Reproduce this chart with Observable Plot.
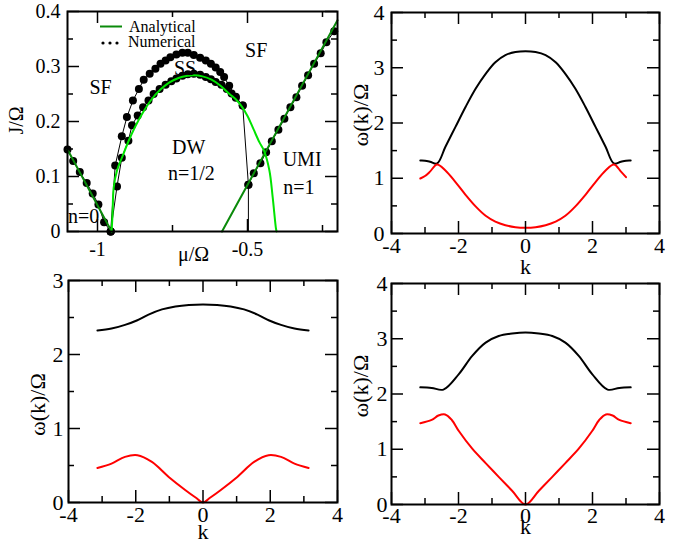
<!DOCTYPE html>
<html><head><meta charset="utf-8">
<script src="https://cdn.jsdelivr.net/npm/d3@7"></script>
<script src="https://cdn.jsdelivr.net/npm/@observablehq/plot@0.6"></script>
<style>
body{margin:0;background:#fff;}
#wrap{position:relative;width:690px;height:548px;overflow:hidden;background:#fff;font-family:"Liberation Serif","Times New Roman",serif;}
#wrap > .p{position:absolute;}
#wrap svg{overflow:visible;}
</style></head><body><div id="wrap"></div>
<script>
// ---------- Panel (a): phase diagram J/Ω vs μ/Ω ----------
const leftLineMu = [-1.1, -0.953];
const leftLineJ  = [0.149, 0];
const rightLineMu = [-0.585, -0.2];
const rightLineJ  = [0, 0.384];
const lobeMu = [-0.953,-0.950,-0.946,-0.935,-0.918,-0.896,-0.875,-0.85,-0.82,-0.79,-0.76,-0.73,-0.70,-0.68,-0.65,-0.62,-0.59,-0.56,-0.54,-0.52,-0.50,-0.48,-0.46,-0.445,-0.427,-0.416,-0.405,-0.403];
const lobeJ  = [0,0.03,0.08,0.111,0.135,0.165,0.190,0.215,0.240,0.258,0.271,0.279,0.283,0.284,0.282,0.276,0.265,0.250,0.241,0.228,0.210,0.186,0.162,0.147,0.111,0.062,0.005,0];

const numLeftMu = [-1.1,-1.081,-1.059,-1.036,-1.016,-0.997,-0.978,-0.956];
const numLeftJ  = [0.149,0.128,0.108,0.088,0.069,0.049,0.017,0];
const numOuterMu = [-0.956,-0.941,-0.919,-0.902,-0.882,-0.862,-0.846,-0.826,-0.807,-0.790,-0.773,-0.757,-0.737,-0.717,-0.699,-0.679,-0.658,-0.639,-0.622,-0.606,-0.591,-0.578,-0.561,-0.539,-0.516];
const numOuterJ  = [0,0.120,0.173,0.208,0.238,0.259,0.276,0.287,0.296,0.305,0.311,0.317,0.322,0.325,0.325,0.321,0.316,0.311,0.305,0.298,0.290,0.281,0.265,0.245,0.229];
const numInnerMu = [-0.956,-0.935,-0.919,-0.897,-0.885,-0.866,-0.848,-0.830,-0.813,-0.793,-0.773,-0.754,-0.737,-0.717,-0.699,-0.679,-0.658,-0.639,-0.622,-0.606,-0.587,-0.569,-0.553,-0.539,-0.516,-0.497];
const numInnerJ  = [0,0.082,0.134,0.165,0.193,0.211,0.226,0.238,0.250,0.259,0.267,0.273,0.278,0.283,0.286,0.287,0.285,0.281,0.277,0.272,0.267,0.259,0.251,0.243,0.229,0.085];
const numDropMu = [-0.497,-0.497];
const numDropJ  = [0.085,0];
const numRightMu = [-0.497,-0.479,-0.457,-0.438,-0.419,-0.397,-0.377,-0.357,-0.337,-0.318,-0.298,-0.278,-0.256,-0.237,-0.211];
const numRightJ  = [0.085,0.106,0.124,0.144,0.164,0.185,0.205,0.226,0.244,0.265,0.284,0.305,0.324,0.344,0.364];

const phaseLabels = ["SF","SS","SF","DW","n=1/2","UMI","n=1","n=0"];
const phaseLabelMu = [-0.99,-0.708,-0.471,-0.696,-0.687,-0.318,-0.329,-1.046];
const phaseLabelJ  = [0.262,0.296,0.329,0.153,0.105,0.131,0.079,0.028];

// ---------- Panel (b): dispersion, top right ----------
const kB_upper = [-3.14,-3.0,-2.85,-2.64,-2.39,-2.09,-1.79,-1.49,-1.19,-0.9,-0.6,-0.3,0,0.3,0.6,0.9,1.19,1.49,1.79,2.09,2.39,2.64,2.85,3.0,3.14];
const wB_upper = [1.32,1.318,1.30,1.267,1.57,1.93,2.29,2.62,2.89,3.10,3.23,3.285,3.30,3.285,3.23,3.10,2.89,2.62,2.29,1.93,1.57,1.267,1.30,1.318,1.32];
const kB_lower = [-3.14,-3.0,-2.85,-2.64,-2.39,-2.09,-1.79,-1.49,-1.19,-0.9,-0.6,-0.3,0,0.3,0.6,0.9,1.19,1.49,1.79,2.09,2.39,2.64,2.85,3.0];
const wB_lower = [0.995,1.04,1.12,1.25,1.14,0.93,0.70,0.49,0.32,0.215,0.15,0.115,0.105,0.115,0.15,0.215,0.32,0.49,0.70,0.93,1.14,1.25,1.12,1.02];

// ---------- Panel (c): dispersion, bottom left ----------
const kC_upper = [-3.14,-2.72,-2.32,-1.97,-1.62,-1.22,-0.82,-0.42,0,0.42,0.82,1.22,1.62,1.97,2.32,2.72,3.14];
const wC_upper = [2.325,2.35,2.40,2.46,2.54,2.61,2.65,2.67,2.675,2.67,2.65,2.61,2.54,2.46,2.40,2.35,2.325];
const kC_lower = [-3.14,-2.72,-2.32,-1.95,-1.52,-1.02,-0.52,-0.22,0,0.22,0.52,1.02,1.52,1.95,2.32,2.72,3.14];
const wC_lower = [0.467,0.526,0.616,0.638,0.548,0.346,0.166,0.067,0,0.067,0.166,0.346,0.548,0.638,0.616,0.526,0.467];

// ---------- Panel (d): dispersion, bottom right ----------
const kD_upper = [-3.14,-2.8,-2.45,-1.99,-1.59,-1.19,-0.8,-0.4,0,0.4,0.8,1.19,1.59,1.99,2.45,2.8,3.14];
const wD_upper = [2.12,2.11,2.08,2.36,2.69,2.93,3.05,3.095,3.115,3.095,3.05,2.93,2.69,2.36,2.08,2.11,2.12];
const kD_lower = [-3.14,-2.8,-2.6,-2.4,-2.2,-1.99,-1.59,-1.19,-0.8,-0.4,0,0.4,0.8,1.19,1.59,1.99,2.2,2.4,2.6,2.8,3.14];
const wD_lower = [1.47,1.53,1.61,1.63,1.53,1.33,1.01,0.75,0.50,0.25,0,0.25,0.50,0.75,1.01,1.33,1.53,1.63,1.61,1.53,1.47];

// axis tick values
const aXMajor = [-1,-0.5], aXMinor = [-0.75,-0.25];
const aYMajor = [0,0.1,0.2,0.3,0.4], aYMinor = [0.05,0.15,0.25,0.35];
const kMajor = [-4,-2,0,2,4], kMinor = [-3,-1,1,3];
const w4Major = [0,1,2,3,4], w4Minor = [0.5,1.5,2.5,3.5];
const w3Major = [0,1,2,3], w3Minor = [0.5,1.5,2.5];

// ---------- helpers ----------
const zip = (xs, ys) => xs.map((x,i) => ({x, y: ys[i]}));
const FONT = "'Liberation Serif','Times New Roman',serif";
const BRIGHT = "#00e400", DARK = "#0a8a0a";

function panel(o){
  const fw = o.width - o.ml - o.mr, fh = o.height - o.mt - o.mb;
  const ts = {stroke:"black", strokeWidth:1.5};
  const fs = o.fs;
  const marks = [
    ...o.marks,
    Plot.tickX(o.xMajor, {x:d=>d, insetTop: fh-12, ...ts}),
    Plot.tickX(o.xMajor, {x:d=>d, insetBottom: fh-12, ...ts}),
    Plot.tickX(o.xMinor, {x:d=>d, insetTop: fh-6, ...ts}),
    Plot.tickX(o.xMinor, {x:d=>d, insetBottom: fh-6, ...ts}),
    Plot.tickY(o.yMajor, {y:d=>d, insetRight: fw-12, ...ts}),
    Plot.tickY(o.yMajor, {y:d=>d, insetLeft: fw-12, ...ts}),
    Plot.tickY(o.yMinor, {y:d=>d, insetRight: fw-6, ...ts}),
    Plot.tickY(o.yMinor, {y:d=>d, insetLeft: fw-6, ...ts}),
    Plot.frame({stroke:"black", strokeWidth:2}),
    Plot.axisX({anchor:"bottom", ticks:o.xMajor, tickSize:0, tickPadding:o.xPad, tickFormat:d=>String(d), label:null, fontSize:fs}),
    Plot.axisY({anchor:"left", ticks:o.yMajor, tickSize:0, tickPadding:o.yPad, tickFormat:d=>String(d), label:null, fontSize:fs}),
    Plot.text([o.xTitle], {text:d=>d, x:o.xTitleAt, frameAnchor:"bottom", lineAnchor:"middle", textAnchor:"middle", dy:o.xTitleDy, fontSize:fs}),
    Plot.text([o.yTitle], {text:d=>d, frameAnchor:"left", lineAnchor:"middle", textAnchor:"middle", rotate:-90, dx:o.yTitleDx, dy:o.yTitleDy, fontSize:fs})
  ];
  const svg = Plot.plot({
    width:o.width, height:o.height,
    marginLeft:o.ml, marginRight:o.mr, marginTop:o.mt, marginBottom:o.mb,
    x:{domain:o.xDomain}, y:{domain:o.yDomain},
    style:{fontFamily:FONT, fontSize:fs+"px", background:"transparent", color:"black", overflow:"visible"},
    marks
  });
  const div = document.createElement("div");
  div.className = "p";
  div.style.left = o.left + "px"; div.style.top = o.top + "px";
  div.appendChild(svg);
  document.getElementById("wrap").appendChild(div);
}

function dispersionMarks(ku, wu, kl, wl){
  return [
    Plot.line(zip(ku, wu), {x:"x", y:"y", stroke:"black", strokeWidth:2, curve:"catmull-rom"}),
    Plot.line(zip(kl, wl), {x:"x", y:"y", stroke:"#ff0000", strokeWidth:2, curve:"catmull-rom"})
  ];
}

// Panel (a)
const dotStyle = {r:4, fill:"black", stroke:"none"};
panel({
  left:0, top:0, width:345, height:270, ml:67, mr:8, mt:11, mb:39, fs:20,
  xDomain:[-1.1,-0.2], yDomain:[0,0.4],
  xMajor:aXMajor, xMinor:aXMinor, yMajor:aYMajor, yMinor:aYMinor,
  xPad:10, yPad:7,
  xTitle:"μ/Ω", xTitleAt:-0.68, xTitleDy:23,
  yTitle:"J/Ω", yTitleDx:-51, yTitleDy:-1,
  marks:[
    Plot.line(zip(numOuterMu, numOuterJ), {x:"x", y:"y", stroke:"black", strokeWidth:1}),
    Plot.line(zip(numInnerMu, numInnerJ), {x:"x", y:"y", stroke:"black", strokeWidth:1}),
    Plot.line(zip(numDropMu, numDropJ), {x:"x", y:"y", stroke:"black", strokeWidth:1}),
    Plot.line(zip(numLeftMu, numLeftJ), {x:"x", y:"y", stroke:"black", strokeWidth:1}),
    Plot.line(zip(numRightMu, numRightJ), {x:"x", y:"y", stroke:"black", strokeWidth:1}),
    Plot.dot(zip(numLeftMu, numLeftJ), {x:"x", y:"y", ...dotStyle}),
    Plot.dot(zip(numOuterMu, numOuterJ), {x:"x", y:"y", ...dotStyle}),
    Plot.dot(zip(numInnerMu, numInnerJ), {x:"x", y:"y", ...dotStyle}),
    Plot.dot(zip(numRightMu, numRightJ), {x:"x", y:"y", ...dotStyle}),
    Plot.line(zip(leftLineMu, leftLineJ), {x:"x", y:"y", stroke:DARK, strokeWidth:2}),
    Plot.line(zip(rightLineMu, rightLineJ), {x:"x", y:"y", stroke:DARK, strokeWidth:2}),
    Plot.line(zip(lobeMu, lobeJ), {x:"x", y:"y", stroke:BRIGHT, strokeWidth:2, curve:"catmull-rom"}),
    Plot.text(phaseLabels, {text:d=>d, x:(d,i)=>phaseLabelMu[i], y:(d,i)=>phaseLabelJ[i], fontSize:20, fill:"black"})
  ]
});

// Panel (b)
panel({
  left:345, top:0, width:345, height:270, ml:46, mr:31, mt:12, mb:37, fs:22,
  xDomain:[-4,4], yDomain:[0,4],
  xMajor:kMajor, xMinor:kMinor, yMajor:w4Major, yMinor:w4Minor,
  xPad:4, yPad:7,
  xTitle:"k", xTitleAt:0, xTitleDy:33,
  yTitle:"ω(k)/Ω", yTitleDx:-31, yTitleDy:-8,
  marks: dispersionMarks(kB_upper, wB_upper, kB_lower, wB_lower)
});

// Panel (c)
panel({
  left:0, top:270, width:345, height:278, ml:68, mr:8, mt:10, mb:46, fs:22,
  xDomain:[-4,4], yDomain:[0,3],
  xMajor:kMajor, xMinor:kMinor, yMajor:w3Major, yMinor:w3Minor,
  xPad:4, yPad:5,
  xTitle:"k", xTitleAt:0, xTitleDy:29,
  yTitle:"ω(k)/Ω", yTitleDx:-31, yTitleDy:13,
  marks: dispersionMarks(kC_upper, wC_upper, kC_lower, wC_lower)
});

// Panel (d)
panel({
  left:345, top:270, width:345, height:278, ml:46, mr:31, mt:13, mb:44, fs:22,
  xDomain:[-4,4], yDomain:[0,4],
  xMajor:kMajor, xMinor:kMinor, yMajor:w4Major, yMinor:w4Minor,
  xPad:3, yPad:4,
  xTitle:"k", xTitleAt:0, xTitleDy:22,
  yTitle:"ω(k)/Ω", yTitleDx:-31, yTitleDy:-8,
  marks: dispersionMarks(kD_upper, wD_upper, kD_lower, wD_lower)
});

// Legend inside panel (a)
const legendLabels = ["Analytical","Numerical"];
const leg = document.createElementNS("http://www.w3.org/2000/svg","svg");
leg.setAttribute("width","345"); leg.setAttribute("height","60");
leg.style.position = "absolute"; leg.style.left = "0px"; leg.style.top = "0px";
leg.innerHTML =
  `<line x1="100" y1="26.5" x2="122" y2="26.5" stroke="${DARK}" stroke-width="2"/>` +
  `<circle cx="103" cy="43" r="1.6" fill="black"/><circle cx="110" cy="43" r="1.6" fill="black"/><circle cx="117" cy="43" r="1.6" fill="black"/>` +
  `<text x="129" y="32" font-family="${FONT}" font-size="16">${legendLabels[0]}</text>` +
  `<text x="128" y="47" font-family="${FONT}" font-size="16">${legendLabels[1]}</text>`;
document.getElementById("wrap").appendChild(leg);
</script>
</body></html>
